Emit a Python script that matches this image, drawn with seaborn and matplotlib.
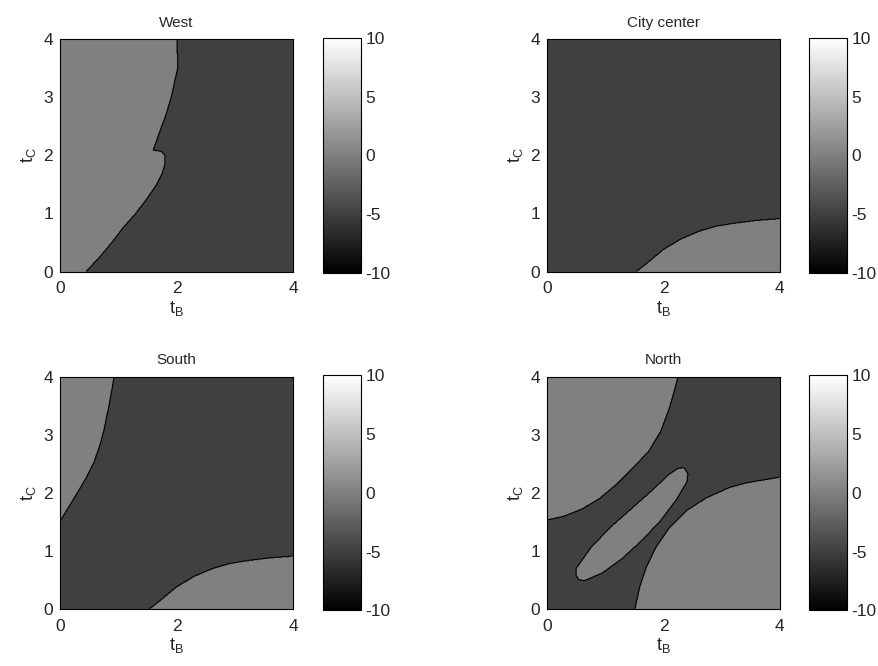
import numpy as np
import seaborn as sns
import matplotlib
matplotlib.use("Agg")
import matplotlib.pyplot as plt
from matplotlib.path import Path

# boundaries of the light (value 0) regions, in (t_B, t_C)
west_x = [0, 0.45, 0.68, 0.89, 1.08, 1.30, 1.49, 1.66, 1.76, 1.80, 1.80, 1.74, 1.60,
          1.64, 1.71, 1.82, 1.91, 2.02, 2.01, 0]
west_y = [0, 0, 0.25, 0.5, 0.75, 1.0, 1.25, 1.5, 1.7, 1.85, 2.0, 2.07, 2.09,
          2.2, 2.4, 2.7, 3.0, 3.5, 4.0, 4.0]

corner_x = [1.53, 1.70, 2.00, 2.30, 2.60, 2.90, 3.20, 3.60, 4.0, 4.0]
corner_y = [0, 0.13, 0.38, 0.56, 0.69, 0.78, 0.83, 0.88, 0.91, 0]

south_top_x = [0, 0.14, 0.28, 0.45, 0.58, 0.68, 0.76, 0.85, 0.93, 0]
south_top_y = [1.51, 1.74, 1.97, 2.26, 2.52, 2.80, 3.10, 3.55, 4.0, 4.0]

north_top_x = [0, 0.30, 0.60, 0.90, 1.20, 1.50, 1.75, 1.95, 2.10, 2.20, 2.25, 0]
north_top_y = [1.53, 1.60, 1.72, 1.90, 2.15, 2.45, 2.72, 3.05, 3.45, 3.80, 4.0, 4.0]

north_low_x = [1.51, 1.59, 1.70, 1.87, 2.10, 2.39, 2.73, 3.13, 3.42, 4.0, 4.0]
north_low_y = [0, 0.37, 0.71, 1.06, 1.40, 1.69, 1.91, 2.09, 2.17, 2.27, 0]

north_ell_x = [0.50, 0.50, 0.75, 1.08, 1.42, 1.78, 2.10, 2.25, 2.36, 2.42, 2.40,
               2.22, 1.95, 1.62, 1.28, 0.95, 0.65, 0.55]
north_ell_y = [0.58, 0.70, 1.05, 1.40, 1.70, 2.02, 2.32, 2.42, 2.43, 2.32, 2.18,
               1.88, 1.52, 1.17, 0.86, 0.62, 0.49, 0.50]

titles = ["West", "City center", "South", "North"]
regions = [
    [(west_x, west_y)],
    [(corner_x, corner_y)],
    [(south_top_x, south_top_y), (corner_x, corner_y)],
    [(north_top_x, north_top_y), (north_low_x, north_low_y), (north_ell_x, north_ell_y)],
]
low_value = -5
high_value = 0

sns.set_style("white")
plt.rcParams["font.family"] = ["Liberation Sans", "DejaVu Sans"]
plt.rcParams["mathtext.default"] = "regular"
plt.rcParams["axes.unicode_minus"] = False

n = 400
centers = (np.arange(n) + 0.5) * 4 / n
gx, gy = np.meshgrid(centers, centers)
points = np.column_stack([gx.ravel(), gy.ravel()])


def make_grid(polys):
    grid = np.full(n * n, low_value, dtype=float)
    for px, py in polys:
        inside = Path(np.column_stack([px, py])).contains_points(points)
        grid[inside] = high_value
    return grid.reshape(n, n)


fig = plt.figure(figsize=(8.79, 6.66), dpi=100)
lefts = [0.0683, 0.6223]
bottoms = [0.5923, 0.0856]
cb_lefts = [0.3675, 0.9204]

for i, (title, polys) in enumerate(zip(titles, regions)):
    row, col = divmod(i, 2)
    ax = fig.add_axes([lefts[col], bottoms[row], 0.265, 0.349])
    cax = fig.add_axes([cb_lefts[col], bottoms[row] - 0.002, 0.0432, 0.353])
    grid = make_grid(polys)

    sns.heatmap(grid, ax=ax, cmap="gray", vmin=-10, vmax=10, cbar_ax=cax,
                xticklabels=False, yticklabels=False,
                cbar_kws={"ticks": [-10, -5, 0, 5, 10]})
    ax.contour(np.arange(n) + 0.5, np.arange(n) + 0.5, grid,
               levels=[(low_value + high_value) / 2], colors="k",
               linewidths=0.8, linestyles="solid")
    ax.set_xlim(0, n)
    ax.set_ylim(0, n)

    ax.set_xticks(np.array([0, 2, 4]) * n / 4)
    ax.set_xticklabels(["0", "2", "4"])
    ax.set_yticks(np.arange(5) * n / 4)
    ax.set_yticklabels(["0", "1", "2", "3", "4"], rotation=0)
    ax.tick_params(direction="in", top=True, right=True, bottom=True, left=True,
                   length=3, width=0.6, labelsize=12.5, pad=5)
    ax.tick_params(axis="x", pad=7)
    for s in ax.spines.values():
        s.set_visible(True)
        s.set_color("black")
        s.set_linewidth(0.8)

    ax.set_title(title, fontsize=11, pad=9)
    ax.set_xlabel("$t_B$", fontsize=13, labelpad=2)
    ax.set_ylabel("$t_C$", fontsize=13, labelpad=4)

    cb = ax.collections[0].colorbar
    cb.outline.set_visible(True)
    cb.outline.set_linewidth(0.8)
    cb.outline.set_edgecolor("black")
    cax.tick_params(direction="in", right=True, left=False, length=3, width=0.6,
                    labelsize=12.5, pad=3)

fig.savefig("out.png", dpi=100)
